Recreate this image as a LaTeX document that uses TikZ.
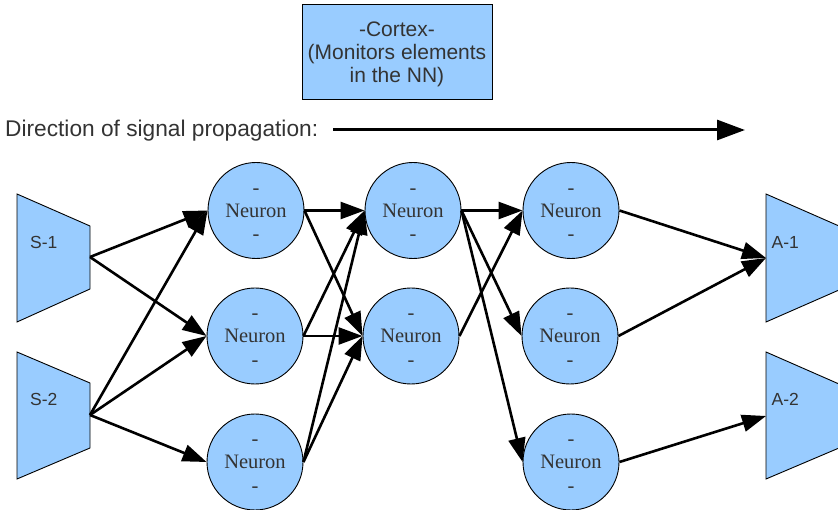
\documentclass[tikz,border=0pt]{standalone}
\usepackage{fontspec}
\setmainfont{Liberation Serif}
\setsansfont{Liberation Sans}
\usetikzlibrary{arrows.meta}
\definecolor{cellblue}{HTML}{99CCFF}
\definecolor{labelgray}{HTML}{333333}
\begin{document}
\begin{tikzpicture}[x=1pt,y=-1pt,
  neurontext/.style={align=center, text=labelgray, inner sep=0pt,
    font=\fontsize{20.5}{23.3}\selectfont, yshift=-4.2pt},
  neuron/.style={circle, draw=black, line width=0.9pt, fill=cellblue,
    minimum size=96pt, inner sep=0pt,
    label={[neurontext]center:{-\\Neuron\\-}}},
  port/.style={draw=black, line width=0.9pt, fill=cellblue},
  tag/.style={text=labelgray, font=\sffamily\fontsize{17.5}{20}\selectfont,
    anchor=base west, inner sep=0pt},
  link/.style={line width=2.6pt, -{Triangle[length=24pt,width=17pt]}}]
\clip (0,0) rectangle (838,510);

% cortex box
\node[draw=black, line width=0.9pt, fill=cellblue, minimum width=190pt,
  minimum height=95pt, inner sep=0pt,
  label={[align=center, text=labelgray, inner sep=0pt, yshift=-2.5pt,
    font=\sffamily\fontsize{21}{23}\selectfont]center:{-Cortex-\\(Monitors elements\\in the NN)}}]
  (cortex) at (397,51.5) {};

% direction of propagation
\node[text=labelgray, font=\sffamily\fontsize{22.7}{26}\selectfont,
  anchor=base west, inner sep=0pt] (dirlabel) at (5,137) {Direction of signal propagation:};
\coordinate (p0) at (333,130);
\coordinate (p1) at (745,130);
\draw[line width=3pt, -{Triangle[length=28pt,width=20pt]}] (p0) -- (p1);

% sensors
\draw[port] (17,194) -- (90,226) -- (90,289) -- (17,322) -- cycle;
\draw[port] (17,352) -- (90,383) -- (90,448) -- (17,479) -- cycle;
\node[tag] (s1label) at (30,248.3) {S-1};
\node[tag] (s2label) at (30,405.7) {S-2};
\coordinate (s1) at (90,257);
\coordinate (s2) at (90,415);

% actuators
\draw[port] (766,194) -- (839,226) -- (839,290) -- (766,322) -- cycle;
\draw[port] (766,352) -- (839,384) -- (839,448) -- (766,479) -- cycle;
\node[tag] (a1label) at (771.5,248.3) {A-1};
\node[tag] (a2label) at (771.5,405.7) {A-2};
\coordinate (a1) at (766,258);
\coordinate (a2) at (766,416);

% neurons
\node[neuron] (n11) at (256,210.5) {};
\node[neuron] (n12) at (255,336) {};
\node[neuron] (n13) at (255,462) {};
\node[neuron] (n21) at (413,210.5) {};
\node[neuron] (n22) at (411,336) {};
\node[neuron] (n31) at (571,210.5) {};
\node[neuron] (n32) at (570,336) {};
\node[neuron] (n33) at (571,462) {};

% sensors to first layer
\draw[link] (s1) -- (n11.west);
\draw[link] (s1) -- (n12.west);
\draw[link] (s2) -- (n11.west);
\draw[link] (s2) -- (n12.west);
\draw[link] (s2) -- (n13.west);

% first layer to second layer
\draw[link] (n11.east) -- (n21.west);
\draw[link] (n11.east) -- (n22.west);
\draw[link] (n12.east) -- (n21.west);
\draw[link] (n12.east) -- (n22.west);
\draw[link] (n13.east) -- (n21.west);
\draw[link] (n13.east) -- (n22.west);

% second layer to third layer
\draw[link] (n21.east) -- (n31.west);
\draw[link] (n21.east) -- (n32.west);
\draw[link] (n21.east) -- (n33.west);
\draw[link] (n22.east) -- (n31.west);

% third layer to actuators
\draw[link] (n31.east) -- (a1);
\draw[link] (n32.east) -- (a1);
\draw[link] (n33.east) -- (a2);
\end{tikzpicture}
\end{document}
